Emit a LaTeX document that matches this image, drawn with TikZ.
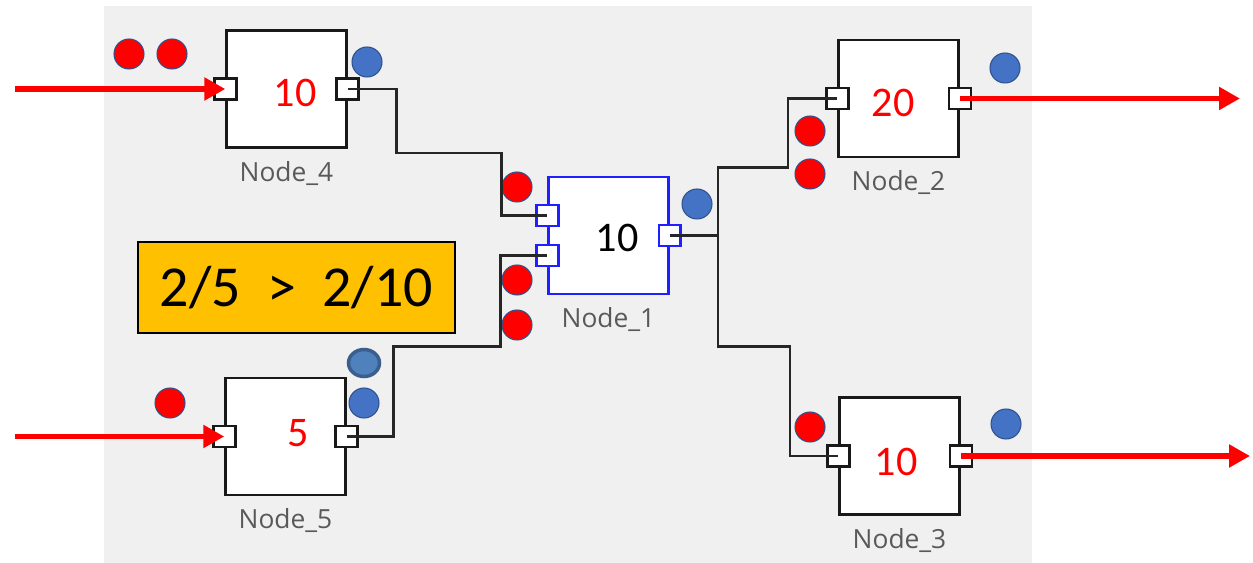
\documentclass[tikz,border=0pt]{standalone}
\usepackage{fontspec}
\setmainfont{Carlito}
\newfontfamily\labelfont{Open Sans}
\usepackage{xcolor}
\usetikzlibrary{shapes.geometric, arrows.meta, positioning, calc}
\definecolor{bggray}{HTML}{F0F0F0}
\definecolor{blockblue}{HTML}{1F1FFF}
\definecolor{dotblue}{HTML}{4472C4}
\definecolor{dotedge}{HTML}{2F528F}
\definecolor{dotlight}{HTML}{4F81BD}
\definecolor{dotdark}{HTML}{3A5F8C}
\definecolor{boxorange}{HTML}{FFC000}
\definecolor{labelgray}{HTML}{595959}
\tikzset{
    block/.style={
        rectangle, draw=black!90, fill=white,
        minimum width=2.4cm, minimum height=2.34cm,
        inner sep=0pt, line width=1.4pt,
    },
    mainblock/.style={block, draw=blockblue},
    port/.style={
        rectangle, draw=black!90, fill=white,
        minimum width=0.44cm, minimum height=0.42cm,
        inner sep=0pt, line width=1.4pt,
    },
    mainport/.style={port, draw=blockblue},
    value/.style={font=\fontsize{24}{24}\selectfont, text=red, inner sep=0pt},
    caption/.style={font=\labelfont\fontsize{15}{15}\selectfont, text=labelgray, inner sep=0pt},
    reddot/.style={
        circle, fill=red, draw=dotedge, line width=0.6pt,
        minimum size=0.6cm, inner sep=0pt,
    },
    bluedot/.style={
        circle, fill=dotblue, draw=dotedge, line width=0.6pt,
        minimum size=0.6cm, inner sep=0pt,
    },
    bigdot/.style={
        ellipse, fill=dotlight, draw=dotdark, line width=2pt,
        minimum width=0.62cm, minimum height=0.54cm, inner sep=0pt,
    },
    ratio/.style={
        rectangle, draw=black, fill=boxorange, line width=1.4pt,
        minimum width=6.34cm, minimum height=1.82cm,
        font=\fontsize{33}{33}\selectfont,
    },
    wire/.style={line width=1.4pt, draw=black!85},
    feed/.style={-{Triangle[length=0.42cm, width=0.44cm]}, line width=3pt, draw=red},
}
\begin{document}
\begin{tikzpicture}[x=0.02cm, y=-0.02cm]
    \useasboundingbox (0,0) rectangle (1253,563);
    \fill[bggray] (104,6) rectangle (1032,563);

    \node[block] (n4) at (286.5,89) {};
    \node[mainblock] (n1) at (608.5,235.5) {};
    \node[block] (n2) at (898.5,98.5) {};
    \node[block] (n3) at (899.5,456) {};
    \node[block] (n5) at (285.5,436.5) {};

    \node[value] (n4val) at (295,93) {10};
    \node[value, text=black] (n1val) at (617,238) {10};
    \node[value] (n2val) at (893,103) {20};
    \node[value] (n3val) at (896,462) {10};
    \node[value] (n5val) at (298,433) {5};

    \node[caption, below=0.24cm of n4] (n4cap) {Node\_4};
    \node[caption, below=0.24cm of n1] (n1cap) {Node\_1};
    \node[caption, below=0.24cm of n2] (n2cap) {Node\_2};
    \node[caption, below=0.24cm of n3] (n3cap) {Node\_3};
    \node[caption, below=0.24cm of n5] (n5cap) {Node\_5};

    \node[port] (n4in) at (n4.west) {};
    \node[port] (n4out) at (n4.east) {};
    \node[mainport] (n1inA) at ($(n1.west)+(0,-20)$) {};
    \node[mainport] (n1inB) at ($(n1.west)+(0,20)$) {};
    \node[mainport] (n1out) at (n1.east) {};
    \node[port] (n2in) at (n2.west) {};
    \node[port] (n2out) at (n2.east) {};
    \node[port] (n3in) at (n3.west) {};
    \node[port] (n3out) at (n3.east) {};
    \node[port] (n5in) at (n5.west) {};
    \node[port] (n5out) at (n5.east) {};

    \node[ratio] (cmp) at (296.5,287.5) {2/5\ \ >\ \ 2/10};

    \node[reddot] (r1) at (129,54) {};
    \node[reddot] (r2) at (172,54) {};
    \node[reddot] (r3) at (517,187) {};
    \node[reddot] (r4) at (517,280) {};
    \node[reddot] (r5) at (517,325) {};
    \node[reddot] (r6) at (810,131) {};
    \node[reddot] (r7) at (810,174) {};
    \node[reddot] (r8) at (810,427) {};
    \node[reddot] (r9) at (170,403) {};
    \node[bluedot] (b1) at (367,62) {};
    \node[bluedot] (b2) at (697,204) {};
    \node[bluedot] (b3) at (1005,68) {};
    \node[bluedot] (b4) at (1006,424) {};
    \node[bluedot] (b5) at (364,403) {};
    \node[bigdot] (b6) at (364,363) {};

    \coordinate (src4) at (15,89);
    \coordinate (src5) at (15,436.5);
    \coordinate (snk2) at (1240,98.5);
    \coordinate (snk3) at (1250,456);

    \draw[wire] (n4out.center) -- ++(49,0) |- ++(105,64) |- (n1inA.center);
    \draw[wire] (n5out.center) -- ++(47,0) |- ++(107,-90) |- (n1inB.center);
    \draw[wire] (n1out.center) -- ++(48,0) coordinate (split) |- ++(70,-68) |- (n2in.center);
    \draw[wire] (split) |- ++(72,111) |- (n3in.center);

    \draw[feed] (src4) -- (n4in.center);
    \draw[feed] (src5) -- (n5in.center);
    \draw[feed] (n2out.center) -- (snk2);
    \draw[feed] (n3out.center) -- (snk3);
\end{tikzpicture}
\end{document}
